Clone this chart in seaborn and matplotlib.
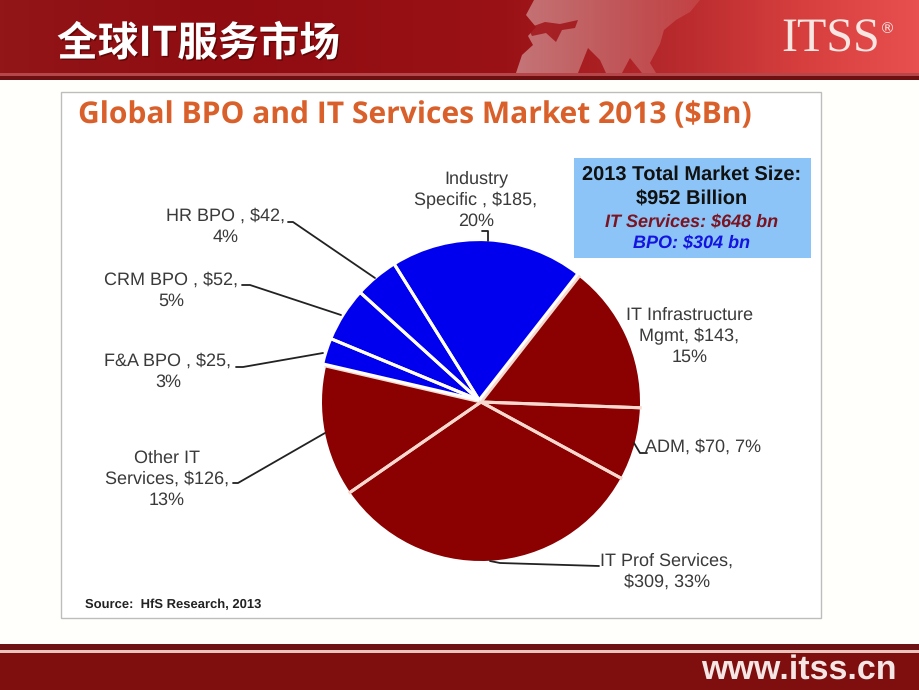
import numpy as np
import seaborn as sns
import matplotlib
matplotlib.use('Agg')
import matplotlib.pyplot as plt
import matplotlib.patheffects as pe
from matplotlib.colors import LinearSegmentedColormap
from matplotlib.patches import Rectangle, Polygon

W, H = 920, 690

# clockwise from the top right, starting with IT Infrastructure
segments = ['IT Infrastructure Mgmt', 'ADM', 'IT Prof Services', 'Other IT Services',
            'F&A BPO', 'CRM BPO', 'HR BPO', 'Industry Specific']
values = [143, 70, 309, 126, 25, 52, 42, 185]
groups = ['IT', 'IT', 'IT', 'IT', 'BPO', 'BPO', 'BPO', 'BPO']
labels = ['IT Infrastructure\nMgmt, $143,\n15%', 'ADM, $70, 7%', 'IT Prof Services,\n$309, 33%',
          'Other IT\nServices, $126,\n13%', 'F&A BPO , $25,\n3%', 'CRM BPO , $52,\n5%',
          'HR BPO , $42,\n4%', 'Industry\nSpecific , $185,\n20%']
slide_title = '全球IT服务市场'
chart_title = 'Global BPO and IT Services Market 2013 ($Bn)'
box_lines = ['2013 Total Market Size:', '$952 Billion', 'IT Services: $648 bn', 'BPO: $304 bn']
source = 'Source:  HfS Research, 2013'

sns.set_theme(style='white')
plt.rcParams['font.family'] = ['Liberation Sans', 'DejaVu Sans']
plt.rcParams['text.hinting'] = 'no_hinting'
plt.rcParams['text.hinting_factor'] = 1
group_colors = {'IT': '#8b0000', 'BPO': '#0000ee'}
divider_colors = {'IT': '#f7d9cf', 'BPO': 'white'}

fig = plt.figure(figsize=(W / 100, H / 100), dpi=100, facecolor='#fffffb')

# slide furniture in pixel coordinates
bg = fig.add_axes([0, 0, 1, 1])
bg.axis('off')

header = LinearSegmentedColormap.from_list('header', [(0, '#921518'), (0.25, '#8f0c10'), (0.55, '#9a1216'),
                                                      (0.72, '#b5282b'), (0.88, '#d8403f'), (1, '#e85050')])
bg.imshow(np.linspace(0, 1, 256).reshape(1, -1), cmap=header, extent=(0, W, 73, 0), aspect='auto')

# rough world map on the header, fading out to the right
land = [(516, 73), (522, 55), (533, 45), (528, 36), (536, 27), (526, 15), (534, 0), (700, 0), (690, 12), (676, 20),
        (664, 30), (660, 44), (650, 63), (656, 73), (642, 73), (630, 58), (622, 73), (606, 73), (600, 60),
        (588, 48), (578, 73)]
fade = np.ones((1, 256, 4))
fade[..., 3] = np.linspace(0.42, 0.1, 256)
land_img = bg.imshow(fade, extent=(516, 700, 73, 0), aspect='auto')
land_patch = Polygon(land, closed=True, fc='none', ec='none', transform=bg.transData)
bg.add_patch(land_patch)
land_img.set_clip_path(land_patch)
bg.add_patch(Polygon([(528, 28), (545, 22), (560, 24), (578, 20), (575, 28), (562, 30), (556, 42), (546, 33), (532, 36)],
                     closed=True, fc='#a01418', ec='none', alpha=0.85))

bg.set_xlim(0, W)
bg.set_ylim(H, 0)

bg.add_patch(Rectangle((0, 73), W, 3, fc='#b5474a', ec='none'))
bg.add_patch(Rectangle((0, 76), W, 4, fc='#6e0f12', ec='none'))
bg.text(57, 44, slide_title, color='white', fontsize=29.3, fontweight='bold', va='center', ha='left',
        family=['Noto Sans CJK SC', 'DejaVu Sans'],
        path_effects=[pe.withSimplePatchShadow(offset=(1, -1), shadow_rgbFace='#400000', alpha=0.6)])
bg.text(781, 40, 'ITSS', color='#f7e6e2', fontsize=34.5, family='Liberation Serif', va='center', ha='left')
bg.text(880, 29, '®', color='#f7e6e2', fontsize=11, family='DejaVu Sans', va='center', ha='left')

# footer
bg.add_patch(Rectangle((0, 644), W, 6, fc='#6f1214', ec='none'))
bg.add_patch(Rectangle((0, 650), W, 3, fc='#e8c4bd', ec='none'))
bg.add_patch(Rectangle((0, 653), W, 37, fc='#7f0f0f', ec='none'))
bg.text(897, 670, 'www.itss.cn', color='#f4e6e4', fontsize=24.8, fontweight='bold', ha='right', va='center')

# white chart card
bg.add_patch(Rectangle((61.5, 91.5), 760, 526, fc='white', ec='#bdbdbd', lw=1))
bg.text(78, 115, chart_title, color='#d9602a', fontsize=21.7, fontweight='bold', family='Open Sans', va='center', ha='left')
bg.text(85, 605, source, color='#222222', fontsize=9.6, fontweight='bold', va='center', ha='left')

# pie
cx, cy, r = 481, 402, 159
pie_ax = fig.add_axes([(cx - r) / W, 1 - (cy + r) / H, 2 * r / W, 2 * r / H])
wedges, _ = pie_ax.pie(values, colors=[group_colors[g] for g in groups], startangle=52, counterclock=False,
                       radius=1.0, wedgeprops={'linewidth': 0})
pie_ax.set_xlim(-1, 1)
pie_ax.set_ylim(-1, 1)
pie_ax.patch.set_alpha(0)
for wedge, group in zip(wedges, groups):
    if group == 'BPO':
        wedge.set_center((-0.012, 0.012))
    # dividers only along the radial edges, the rim stays clean
    for angle in (wedge.theta1, wedge.theta2):
        a = np.radians(angle)
        x0, y0 = wedge.center
        pie_ax.plot([x0, x0 + 1.01 * np.cos(a)], [y0, y0 + 1.01 * np.sin(a)], color=divider_colors[group],
                    lw=2.2, clip_on=False, solid_capstyle='butt')

# overlay for labels, leaders and the summary box
top = fig.add_axes([0, 0, 1, 1])
top.set_xlim(0, W)
top.set_ylim(H, 0)
top.axis('off')
top.patch.set_alpha(0)

label_pos = [(689.5, 336), (703, 447), (667, 572), (167, 479), (168, 372), (171, 291), (226, 227), (476, 200)]
for (x, y), text in zip(label_pos, labels):
    top.text(x, y, text, ha='center', va='center', fontsize=12.7, color='#3a3a3a', linespacing=1.32)

leaders = [
    [(288, 222), (293, 222), (375, 278)],
    [(242, 285), (250, 285), (341, 315)],
    [(236, 367), (243, 367), (323, 353)],
    [(233, 483), (238, 483), (325, 433)],
    [(599, 566), (500, 563), (490, 561)],
    [(647, 453), (640, 453), (634, 443)],
    [(482, 231), (488, 231), (488, 241)],
]
for line in leaders:
    xs, ys = zip(*line)
    top.plot(xs, ys, color='#222222', lw=1.3, solid_capstyle='round')

top.add_patch(Rectangle((574, 158), 237, 100, fc='#8cc4f7', ec='none'))
box_y = [175, 199, 222, 243]
box_colors = ['#111111', '#111111', '#7b1420', '#1414e0']
box_style = ['normal', 'normal', 'italic', 'italic']
box_size = [14.4, 14.4, 13, 13]
for text, y, c, st, sz in zip(box_lines, box_y, box_colors, box_style, box_size):
    top.text(692, y, text, color=c, fontstyle=st, fontweight='bold', fontsize=sz, ha='center', va='center')

fig.savefig('out.png', dpi=100)
